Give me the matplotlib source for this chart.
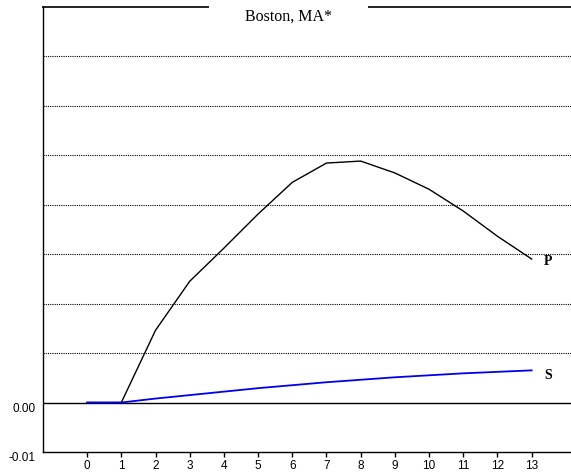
import matplotlib
matplotlib.use("Agg")
import matplotlib.pyplot as plt

years = [0, 1, 2, 3, 4, 5, 6, 7, 8, 9, 10, 11, 12, 13]
p_values = [0.0, 0.0, 0.0146, 0.0245, 0.0312, 0.0381, 0.0445, 0.0484, 0.0488,
            0.0464, 0.0431, 0.0387, 0.0336, 0.0290]
s_values = [0.0, 0.0, 0.0008, 0.0015, 0.0022, 0.0029, 0.0035, 0.0041, 0.0046,
            0.0051, 0.0055, 0.0059, 0.0062, 0.0065]
grid_levels = [0.01, 0.02, 0.03, 0.04, 0.05, 0.06, 0.07]
ytick_vals = [0.0, -0.01]
ytick_labels = ["0.00", "-0.01"]
title = "Boston, MA*"

W, H = 571, 475
fig = plt.figure(figsize=(W / 100, H / 100), dpi=100)
ax = fig.add_axes([43 / W, (H - 452) / H, (W - 43) / W, (452 - 6.7) / H])

ax.set_xlim(-1.29, 14.15)
ax.set_ylim(-0.01, 0.08)

for g in grid_levels:
    ax.axhline(g, color="black", lw=0.8, ls=(0, (1, 1)), zorder=1)
ax.axhline(0, color="black", lw=1.0, zorder=1)

ax.plot(years, p_values, color="black", lw=1.0, zorder=2)
ax.plot(years, s_values, color="#0000ee", lw=1.3, zorder=3)

ax.annotate("P", xy=(years[-1], p_values[-1]), xytext=(9, -2), textcoords="offset points",
            family="Liberation Serif", fontsize=10, fontweight="bold", va="center", ha="left")
ax.annotate("S", xy=(years[-1], s_values[-1]), xytext=(9, -4), textcoords="offset points",
            family="Liberation Serif", fontsize=10, fontweight="bold", va="center", ha="left")

for side in ["top", "right"]:
    ax.spines[side].set_visible(False)
ax.spines["left"].set_linewidth(1.0)
ax.spines["bottom"].set_linewidth(1.0)

# broken top border around the title
gap_l, gap_r = (208 - 43) / (W - 43), (369 - 43) / (W - 43)
ax.plot([0, gap_l], [1, 1], transform=ax.transAxes, color="#222222", lw=1.4, clip_on=False)
ax.plot([gap_r, 1], [1, 1], transform=ax.transAxes, color="#222222", lw=1.4, clip_on=False)
ax.text((gap_l + gap_r) / 2, 0.996, title, transform=ax.transAxes, ha="center", va="top",
        family="Liberation Serif", fontsize=11.5)

ax.set_xticks(years)
ax.set_xticklabels([str(y) for y in years], family="Liberation Sans", fontsize=8.5)
ax.tick_params(axis="x", direction="out", length=3.5, width=1, pad=2)

ax.set_yticks(ytick_vals)
ax.set_yticklabels(ytick_labels, family="Liberation Sans", fontsize=8.5)
ax.tick_params(axis="y", length=0, pad=5.5)
for lab in ax.get_yticklabels():
    lab.set_verticalalignment("top")

fig.savefig("out.png", dpi=100)
